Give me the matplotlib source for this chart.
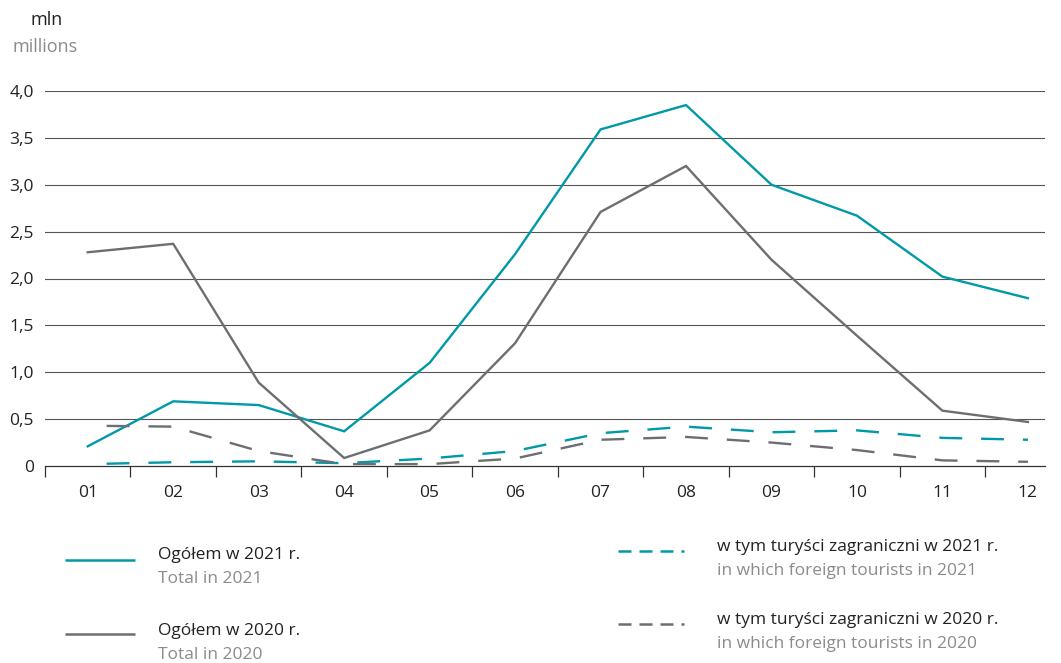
import numpy as np
import matplotlib
matplotlib.use('Agg')
from matplotlib import pyplot as plt
from matplotlib.lines import Line2D

months = ['01', '02', '03', '04', '05', '06', '07', '08', '09', '10', '11', '12']
total_2021 = [0.21, 0.69, 0.65, 0.37, 1.10, 2.26, 3.59, 3.85, 3.00, 2.67, 2.02, 1.79]
total_2020 = [2.28, 2.37, 0.89, 0.085, 0.38, 1.31, 2.71, 3.20, 2.20, 1.39, 0.59, 0.47]
foreign_2021 = [0.02, 0.04, 0.05, 0.03, 0.08, 0.16, 0.35, 0.42, 0.36, 0.38, 0.30, 0.28]
foreign_2020 = [0.43, 0.42, 0.16, 0.02, 0.02, 0.08, 0.28, 0.31, 0.25, 0.17, 0.06, 0.045]
yticks = [0, 0.5, 1.0, 1.5, 2.0, 2.5, 3.0, 3.5, 4.0]
ytick_labels = ['0', '0,5', '1,0', '1,5', '2,0', '2,5', '3,0', '3,5', '4,0']

TEAL = '#0099a8'
GRAY = '#6d6e71'
LIGHT = '#8a8b8e'
plt.rcParams['font.family'] = ['Open Sans', 'DejaVu Sans']

W, H = 1061, 663
fig = plt.figure(figsize=(W / 100, H / 100), dpi=100)
ax = fig.add_axes([45 / W, (H - 466) / H, (1045 - 45) / W, (466 - 91) / H])

x = np.arange(len(months)) + 0.5
ax.plot(x, total_2021, color=TEAL, lw=1.7, solid_joinstyle='miter', zorder=3)
ax.plot(x, total_2020, color=GRAY, lw=1.7, solid_joinstyle='miter', zorder=3)
# dashed lines start with a gap, as in the source
ax.plot(x, foreign_2021, color=TEAL, lw=1.7, zorder=3, linestyle=(9.7, (9.7, 8)))
ax.plot(x, foreign_2020, color=GRAY, lw=1.7, zorder=3, linestyle=(9.7, (9.7, 8)))

ax.set_xlim(0, 11.70)
ax.set_ylim(0, 4.0)
ax.set_yticks(yticks)
ax.set_yticklabels(ytick_labels)
ax.set_xticks(np.arange(12))
ax.set_xticklabels([])
ax.set_xticks(x, minor=True)
ax.set_xticklabels(months, minor=True)
ax.tick_params(axis='x', which='major', length=8, width=0.9, color='#333333', direction='out')
ax.tick_params(axis='x', which='minor', length=0, pad=14, labelsize=12.5, labelcolor='#222222')
ax.tick_params(axis='y', length=0, pad=8, labelsize=12.5, labelcolor='#222222')
for yt in yticks[1:]:
    ax.axhline(yt, color='#555555', lw=0.8, zorder=1)
for s in ['top', 'right', 'left']:
    ax.spines[s].set_visible(False)
ax.spines['bottom'].set_color('#333333')
ax.spines['bottom'].set_linewidth(0.9)

fig.text(30 / W, 1 - 20 / H, 'mln', fontsize=13, color='#222222', va='center')
fig.text(12 / W, 1 - 47 / H, 'millions', fontsize=13, color=LIGHT, va='center')

# legend built by hand
def fx(px):
    return px / W

def fy(py):
    return 1 - py / H

entries = [
    (65, 135, 560, TEAL, '-', 158, 555, 'Ogółem w 2021 r.', 'Total in 2021'),
    (65, 135, 634, GRAY, '-', 158, 631, 'Ogółem w 2020 r.', 'Total in 2020'),
    (618, 684, 551, TEAL, '--', 717, 547, 'w tym turyści zagraniczni w 2021 r.', 'in which foreign tourists in 2021'),
    (618, 684, 624, GRAY, '--', 717, 620, 'w tym turyści zagraniczni w 2020 r.', 'in which foreign tourists in 2020'),
]
for x0, x1, ly, c, ls, tx, ty, t1, t2 in entries:
    ln = Line2D([fx(x0), fx(x1)], [fy(ly), fy(ly)], color=c, lw=1.8,
                solid_capstyle='butt', dash_capstyle='butt', transform=fig.transFigure)
    if ls == '--':
        ln.set_dashes((5.2, 3.2))
    fig.add_artist(ln)
    fig.text(fx(tx), fy(ty), t1, fontsize=12.5, color='#222222', va='center')
    fig.text(fx(tx), fy(ty + 24), t2, fontsize=12.5, color=LIGHT, va='center')

fig.savefig('out.png', dpi=100)
